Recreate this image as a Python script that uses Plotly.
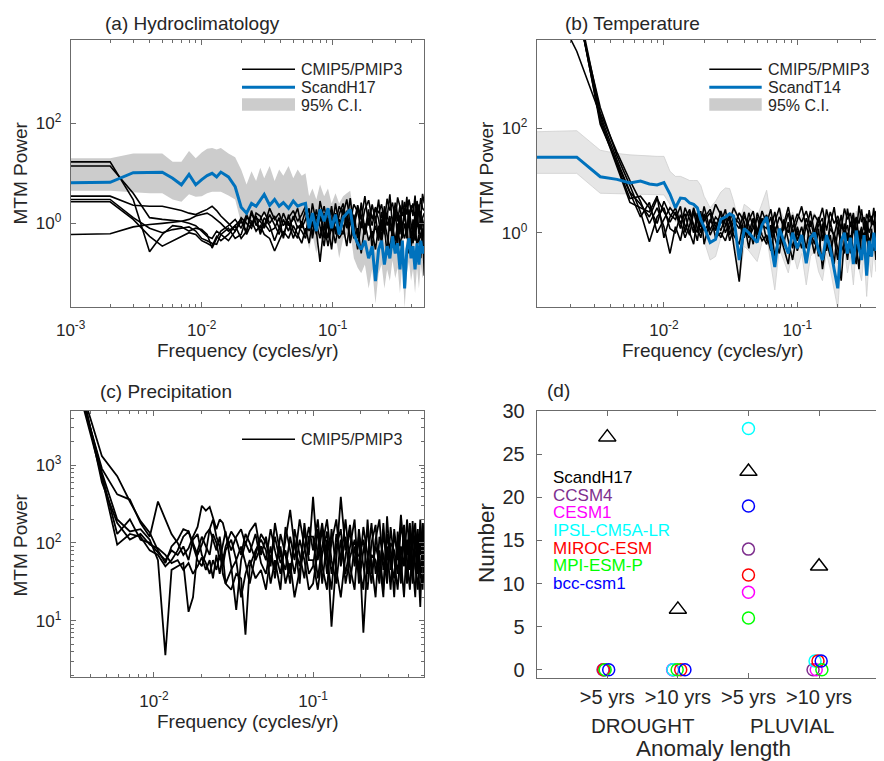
import plotly.graph_objects as go

FONT = "Liberation Sans"
AX_COL = "#6b6b6b"
TXT = "#262626"
BLUE = "#0072BD"
# the page body keeps the browser's default 8 px margin, so the figure is drawn 8 px in
OFF = 8
W, H = 884 - OFF, 761 - OFF

# ---------------------------------------------------------------- panel (a)
freq_a = [0.001, 0.002, 0.003, 0.004, 0.005, 0.006, 0.007, 0.008, 0.009, 0.010,
          0.011, 0.012, 0.013, 0.014, 0.016, 0.018, 0.020, 0.022, 0.024, 0.026,
          0.028, 0.030, 0.033, 0.036, 0.039, 0.042, 0.046, 0.050, 0.054, 0.058,
          0.062, 0.066, 0.070, 0.075, 0.080, 0.086, 0.092, 0.098, 0.105, 0.112,
          0.120, 0.128, 0.136, 0.145, 0.155, 0.165, 0.176, 0.188, 0.200, 0.212,
          0.224, 0.236, 0.248, 0.260, 0.273, 0.286, 0.300, 0.313, 0.326, 0.340,
          0.354, 0.368, 0.382, 0.396, 0.410, 0.425, 0.440, 0.455, 0.470, 0.485, 0.500]

scandH17_a = [6.5, 6.6, 10.3, 10.6, 10.5, 8.0, 5.9, 9.5, 5.9, 7.5,
              9.0, 10.0, 8.5, 10.6, 8.5, 5.4, 2.1, 1.6, 2.5, 2.2,
              3.0, 3.8, 2.3, 3.0, 2.2, 2.6, 2.0, 2.8, 2.2, 2.4,
              2.5, 0.8, 1.6, 0.7, 1.9, 1.1, 2.0, 0.8, 1.5, 0.6,
              1.3, 1.6, 1.9, 0.6, 0.4, 0.3, 0.45, 0.2, 0.35, 0.07,
              0.3, 0.45, 0.15, 0.35, 0.2, 0.55, 0.25, 0.4, 0.12, 0.45,
              0.05, 0.3, 0.5, 0.2, 0.35, 0.12, 0.4, 0.15, 0.45, 0.25, 0.35]

ci_hi_a = [20, 20, 25, 25, 25, 17, 17, 28, 20, 26,
           31, 32, 30, 32, 25, 21, 12, 6, 11, 7,
           13, 8, 14, 7, 12, 9, 14, 8, 12, 9,
           10, 3.5, 5, 3, 6, 3.5, 5, 2.5, 4, 2.5,
           3.5, 4, 4.5, 1.5, 1.0, 0.8, 1.1, 0.5, 0.9, 0.25,
           0.8, 1.1, 0.4, 0.9, 0.5, 1.3, 0.6, 1.0, 0.3, 1.1,
           0.15, 0.8, 1.2, 0.5, 0.9, 0.3, 1.0, 0.4, 1.1, 0.6, 0.9]

ci_lo_a = [4.5, 4.5, 4.2, 4.0, 4.0, 3.0, 2.7, 3.8, 3.4, 3.5,
           4.0, 4.3, 4.3, 4.3, 3.6, 3.0, 1.0, 0.8, 1.0, 0.9,
           1.3, 1.5, 1.0, 1.3, 1.0, 1.1, 0.9, 1.2, 1.0, 1.0,
           1.0, 0.3, 0.6, 0.25, 0.7, 0.4, 0.8, 0.3, 0.6, 0.2,
           0.5, 0.6, 0.7, 0.2, 0.13, 0.1, 0.15, 0.05, 0.12, 0.025,
           0.1, 0.15, 0.05, 0.12, 0.07, 0.18, 0.08, 0.13, 0.04, 0.15,
           0.02, 0.1, 0.17, 0.07, 0.12, 0.04, 0.13, 0.05, 0.15, 0.08, 0.12]

cmip_a1 = [17, 17, 3.0, 0.27, 0.6, 0.9, 0.85, 0.7, 0.8, 0.75,
           0.6, 0.32, 0.5, 0.7, 0.9, 1.2, 0.8, 1.5, 0.9, 1.3,
           1.1, 0.8, 1.5, 0.9, 0.6, 1.2, 0.7, 1.4, 0.8, 1.0,
           1.8, 0.7, 2.5, 1.0, 0.5, 1.6, 0.8, 2.2, 0.6, 1.5,
           2.5, 1.0, 3.2, 0.8, 2.0, 1.2, 3.5, 0.9, 2.4, 1.1,
           3.0, 0.7, 2.2, 1.3, 3.8, 0.9, 2.6, 1.5, 0.6, 2.9,
           1.2, 3.4, 0.8, 2.3, 1.4, 3.6, 0.9, 2.0, 1.3, 3.9, 2.5]
cmip_a2 = [14, 14, 4.0, 1.3, 1.2, 1.15, 1.1, 1.0, 0.9, 0.7,
           0.55, 0.5, 0.7, 0.6, 0.45, 0.7, 1.1, 0.7, 1.6, 1.0,
           0.7, 1.3, 0.9, 0.45, 0.8, 0.6, 1.1, 0.5, 0.9, 0.7,
           0.5, 1.2, 0.6, 1.9, 0.9, 0.35, 1.3, 0.7, 2.5, 0.9,
           0.6, 1.8, 0.4, 1.5, 0.5, 2.6, 0.7, 1.9, 0.3, 1.4,
           0.5, 1.7, 0.8, 0.25, 1.3, 0.6, 2.0, 0.4, 1.5, 0.7,
           2.1, 0.5, 1.6, 0.3, 1.2, 0.8, 2.2, 0.6, 1.7, 0.4, 1.0]
cmip_a3 = [3.5, 3.5, 2.3, 2.2, 2.2, 2.0, 1.8, 1.6, 1.5, 1.7,
           1.9, 2.2, 1.8, 1.4, 1.0, 0.7, 1.3, 1.0, 0.8, 1.6,
           1.4, 0.9, 2.0, 1.2, 1.6, 0.9, 1.3, 1.8, 1.1, 1.5,
           2.2, 1.0, 1.5, 0.6, 2.8, 1.2, 0.5, 1.8, 1.0, 2.2,
           1.5, 3.0, 1.1, 2.4, 1.7, 0.8, 1.9, 2.9, 1.2, 2.1,
           1.6, 2.4, 1.0, 3.1, 1.8, 2.6, 1.1, 3.3, 2.0, 1.4,
           2.7, 1.5, 3.0, 1.8, 2.5, 1.2, 2.8, 1.6, 3.2, 2.0, 1.8]
cmip_a4 = [3.0, 3.0, 1.3, 0.8, 0.65, 0.75, 0.8, 0.85, 0.7, 0.5,
           0.45, 0.4, 0.38, 0.6, 0.8, 0.5, 0.6, 1.3, 1.1, 0.7,
           0.9, 0.6, 0.5, 0.28, 0.45, 0.7, 0.5, 0.9, 0.6, 0.4,
           0.8, 0.4, 1.1, 0.7, 0.17, 1.0, 0.35, 0.9, 0.4, 1.2,
           0.9, 0.35, 1.2, 0.5, 0.8, 0.25, 1.0, 0.45, 0.7, 0.3,
           0.9, 0.4, 1.1, 0.6, 0.3, 0.8, 0.45, 1.0, 0.35, 0.7,
           0.5, 0.9, 0.25, 0.7, 0.4, 1.0, 0.35, 0.6, 0.2, 0.8, 0.09]
cmip_a5 = [2.7, 2.7, 1.2, 0.55, 0.35, 0.45, 0.55, 0.65, 0.6, 0.45,
           0.4, 0.35, 0.55, 0.45, 0.6, 0.9, 0.5, 0.7, 1.8, 0.9,
           1.2, 1.7, 1.0, 1.4, 0.8, 1.6, 0.9, 1.2, 2.0, 0.8,
           1.2, 2.0, 0.5, 1.4, 1.1, 2.2, 0.9, 0.3, 1.6, 0.7,
           2.0, 0.8, 1.6, 1.0, 2.3, 1.3, 0.6, 1.7, 0.9, 2.0,
           1.2, 0.5, 1.8, 0.9, 1.4, 0.45, 1.7, 1.1, 2.3, 0.8,
           1.5, 0.7, 1.9, 1.0, 0.55, 1.6, 1.1, 2.4, 0.75, 1.3, 1.6]
cmip_a6 = [0.6, 0.62, 0.85, 0.95, 1.0, 1.05, 1.1, 1.2, 1.4, 1.5,
           1.6, 1.4, 1.2, 1.0, 0.7, 0.9, 1.2, 0.6, 1.0, 1.4,
           0.6, 1.0, 0.7, 0.8, 1.3, 0.5, 1.5, 0.7, 0.5, 1.1,
           0.6, 1.5, 0.9, 0.7, 1.7, 0.5, 2.0, 1.2, 0.8, 0.5,
           0.7, 1.2, 0.45, 0.9, 0.3, 1.1, 0.6, 1.3, 0.5, 0.9,
           0.45, 1.2, 0.6, 1.6, 0.7, 1.0, 0.3, 0.8, 1.2, 0.5,
           1.0, 0.6, 1.4, 0.5, 0.9, 0.45, 1.1, 0.7, 0.5, 1.2, 0.8]

# ---------------------------------------------------------------- panel (b)
freq_b = [0.00111, 0.00222, 0.00333, 0.00444, 0.00556, 0.00667, 0.00778, 0.00889, 0.0100, 0.0111,
          0.0122, 0.0133, 0.0144, 0.0156, 0.0167, 0.0178, 0.0189, 0.0200, 0.0222, 0.0244,
          0.0267, 0.0289, 0.0311, 0.0333, 0.0367, 0.0400, 0.0433, 0.0467, 0.0500, 0.0544,
          0.0589, 0.0633, 0.0678, 0.0733, 0.0789, 0.0856, 0.0922, 0.1000, 0.1078, 0.1167,
          0.1256, 0.1344, 0.1444, 0.1544, 0.1656, 0.1767, 0.1889, 0.2011, 0.2133, 0.2256,
          0.2378, 0.2500, 0.2633, 0.2767, 0.2900, 0.3033, 0.3167, 0.3311, 0.3456, 0.3600,
          0.3744, 0.3889, 0.4033, 0.4178, 0.4322, 0.4467, 0.4611, 0.4756, 0.4900, 0.5000]

scandT14_b = [28, 28, 11.8, 10.5, 9.0, 9.8, 8.6, 8.2, 9.1, 5.5,
              3.0, 4.6, 4.5, 3.7, 3.5, 3.0, 1.75, 1.3, 0.65, 0.75,
              1.8, 2.0, 2.3, 2.1, 0.3, 1.2, 1.0, 0.8, 0.65, 1.4,
              2.0, 0.6, 0.22, 1.2, 0.7, 0.4, 1.0, 0.5, 0.9, 0.26,
              0.8, 1.0, 0.45, 0.3, 0.9, 0.5, 0.2, 0.086, 0.7, 1.0,
              0.4, 0.8, 0.25, 1.1, 0.5, 0.3, 0.9, 0.15, 0.7, 0.35,
              1.0, 0.45, 0.8, 0.2, 0.6, 0.9, 0.4, 0.7, 0.3, 0.6]

ci_hi_b = [86, 90, 38, 33, 31, 30, 29, 29, 29, 15,
           12, 12, 11, 10, 10, 10, 8, 5, 3.0, 4.0,
           6.0, 7.2, 7.0, 4.0, 1.5, 3.5, 3.0, 2.5, 2.0, 3.5,
           6.5, 2.0, 0.7, 3.0, 2.0, 1.2, 2.5, 1.4, 2.2, 0.8,
           2.0, 2.4, 1.2, 0.8, 2.2, 1.3, 0.6, 0.25, 1.7, 2.4,
           1.1, 2.0, 0.7, 2.6, 1.3, 0.8, 2.2, 0.45, 1.8, 0.9,
           2.4, 1.2, 2.0, 0.6, 1.5, 2.2, 1.1, 1.8, 0.8, 1.5]
ci_lo_b = [13.7, 13.7, 5.7, 5.6, 5.5, 5.5, 5.4, 5.3, 5.3, 3.5,
           1.6, 2.3, 2.4, 2.2, 2.0, 1.8, 1.0, 0.7, 0.3, 0.35,
           0.8, 1.0, 1.2, 1.0, 0.12, 0.55, 0.45, 0.35, 0.28, 0.65,
           0.9, 0.25, 0.08, 0.5, 0.3, 0.17, 0.45, 0.2, 0.4, 0.1,
           0.35, 0.45, 0.18, 0.12, 0.4, 0.2, 0.08, 0.035, 0.3, 0.45,
           0.17, 0.35, 0.1, 0.5, 0.2, 0.12, 0.4, 0.06, 0.3, 0.14,
           0.45, 0.18, 0.35, 0.08, 0.25, 0.4, 0.16, 0.3, 0.12, 0.25]

cmip_b1 = [1e5, 3000, 180, 25, 6, 3.5, 2.0, 4.5, 2.5, 1.6,
           2.5, 1.2, 3.0, 1.8, 1.0, 2.4, 1.5, 3.2, 1.1, 2.0,
           1.5, 2.8, 0.9, 1.7, 1.2, 2.5, 1.0, 1.9, 0.7, 1.6,
           2.2, 0.8, 1.6, 3.0, 1.1, 2.4, 0.9, 1.8, 3.2, 1.2,
           2.6, 1.0, 2.0, 0.7, 2.8, 1.4, 3.1, 1.0, 2.2, 0.8,
           2.9, 1.3, 2.4, 0.9, 3.3, 1.6, 2.0, 0.8, 2.7, 1.4,
           3.0, 1.1, 2.3, 1.5, 3.2, 0.9, 2.5, 1.7, 2.8, 1.5]
cmip_b2 = [3e5, 2e4, 250, 30, 8, 2.5, 0.67, 2.0, 3.0, 1.2,
           1.0, 2.2, 1.4, 0.9, 2.6, 1.2, 0.8, 1.9, 2.8, 1.3,
           0.8, 1.3, 2.2, 0.6, 0.115, 1.4, 0.8, 1.2, 2.0, 0.9,
           0.6, 1.4, 0.35, 1.0, 0.5, 0.25, 1.2, 0.45, 0.8, 0.3,
           0.9, 0.4, 1.2, 0.2, 0.7, 0.35, 1.0, 0.5, 0.12, 0.8,
           0.3, 0.9, 0.5, 0.25, 1.1, 0.4, 0.7, 0.2, 0.8, 0.35,
           0.9, 0.3, 0.6, 0.15, 0.8, 0.4, 0.25, 0.7, 0.05, 0.5]
cmip_b3 = [3e5, 2.5e4, 160, 20, 4.5, 5.0, 3.0, 1.5, 4.0, 2.2,
           1.8, 3.2, 1.0, 2.5, 1.3, 0.7, 2.0, 1.1, 1.6, 3.5,
           2.2, 1.0, 1.6, 3.0, 1.8, 0.9, 2.4, 1.3, 1.0, 2.6,
           1.5, 2.8, 1.0, 2.0, 1.4, 3.1, 1.2, 2.3, 1.6, 2.6,
           1.3, 2.2, 1.6, 3.0, 1.1, 2.5, 1.5, 2.1, 1.2, 2.9,
           1.8, 2.4, 1.2, 2.0, 1.5, 2.8, 1.1, 2.3, 1.6, 2.1,
           1.4, 2.6, 1.8, 2.2, 1.3, 2.9, 1.7, 2.0, 1.5, 2.4]
cmip_b4 = [4e5, 3e4, 120, 22, 5.5, 2.0, 3.8, 1.0, 1.8, 3.0,
           2.2, 1.6, 0.8, 1.4, 3.0, 1.8, 1.0, 2.3, 0.9, 1.6,
           1.1, 2.0, 0.7, 1.2, 2.4, 1.6, 0.5, 1.8, 1.2, 0.7,
           0.9, 0.45, 1.3, 0.6, 1.8, 0.7, 0.3, 1.1, 0.5, 1.4,
           0.6, 1.1, 0.35, 1.5, 0.5, 0.9, 0.25, 1.2, 0.6, 0.4,
           1.0, 0.4, 1.3, 0.6, 0.2, 1.1, 0.5, 0.9, 0.35, 1.2,
           0.45, 1.0, 0.3, 1.2, 0.6, 0.2, 0.9, 0.4, 1.1, 0.7]
cmip_b5 = [5e5, 3e4, 200, 35, 10, 4.0, 1.5, 3.0, 1.3, 0.4,
           1.3, 0.7, 1.9, 2.8, 1.4, 1.0, 2.6, 0.6, 1.8, 1.1,
           2.6, 1.4, 1.9, 0.9, 0.6, 2.1, 1.4, 0.6, 2.4, 1.4,
           1.2, 2.0, 0.8, 0.4, 1.5, 1.0, 2.2, 0.7, 1.3, 0.5,
           1.7, 0.8, 1.4, 1.9, 0.6, 1.2, 0.9, 1.8, 0.55, 1.5,
           0.7, 1.6, 1.0, 1.9, 0.8, 1.3, 0.45, 1.7, 1.0, 1.4,
           1.6, 0.7, 1.4, 0.9, 1.9, 1.1, 0.6, 1.5, 0.9, 1.3]
cmip_b6 = [4e5, 2.5e4, 140, 18, 3.8, 3.0, 2.5, 5.0, 0.8, 2.0,
           3.0, 1.5, 2.3, 1.0, 0.6, 2.1, 1.3, 1.7, 2.4, 0.8,
           1.0, 0.7, 1.3, 2.0, 1.5, 0.8, 1.7, 2.6, 0.9, 1.9,
           0.7, 1.1, 2.5, 0.9, 0.6, 1.6, 0.5, 1.3, 0.7, 1.9,
           1.0, 0.6, 1.8, 1.1, 0.45, 1.6, 0.8, 0.3, 1.4, 1.0,
           1.4, 0.6, 1.9, 1.0, 0.55, 1.2, 0.85, 1.5, 0.6, 1.0,
           0.8, 1.3, 0.5, 1.7, 1.0, 1.4, 0.7, 0.12, 1.2, 0.9]

# ---------------------------------------------------------------- panel (c)
freq_c = [0.00235, 0.00353, 0.00471, 0.00588, 0.00706, 0.00824, 0.00941, 0.0106, 0.0118, 0.0129,
          0.0141, 0.0153, 0.0165, 0.0176, 0.0188, 0.0200, 0.0212, 0.0224, 0.0235, 0.0247,
          0.0259, 0.0271, 0.0282, 0.0306, 0.0329, 0.0353, 0.0376, 0.0400, 0.0435, 0.0471,
          0.0506, 0.0541, 0.0576, 0.0624, 0.0671, 0.0718, 0.0765, 0.0824, 0.0882, 0.0941,
          0.1000, 0.1071, 0.1141, 0.1224, 0.1306, 0.1400, 0.1494, 0.1600, 0.1706, 0.1824,
          0.1941, 0.2071, 0.2200, 0.2329, 0.2471, 0.2612, 0.2765, 0.2918, 0.3071, 0.3235,
          0.3400, 0.3565, 0.3729, 0.3894, 0.4059, 0.4224, 0.4388, 0.4553, 0.4718, 0.4882, 0.5000]

cmip_c1 = [1.2e5, 9000, 1300, 720, 340, 190, 135, 80, 55, 90,
           110, 150, 140, 100, 70, 95, 130, 150, 110, 80,
           120, 60, 90, 140, 110, 70, 130, 100, 60, 90,
           60, 150, 80, 40, 110, 265, 90, 50, 140, 70,
           390, 60, 150, 40, 100, 200, 50, 120, 30, 90,
           40, 160, 70, 30, 110, 200, 45, 90, 25, 150,
           60, 230, 80, 35, 150, 60, 20, 130, 70, 180, 110]
cmip_c2 = [1.0e5, 7000, 900, 420, 360, 180, 120, 340, 200, 130,
           100, 70, 85, 120, 160, 300, 260, 290, 210, 150,
           200, 180, 130, 80, 120, 150, 95, 140, 180, 70,
           120, 50, 180, 70, 45, 120, 60, 200, 90, 40,
           50, 150, 30, 110, 8.4, 70, 390, 80, 170, 50,
           120, 7, 60, 180, 40, 80, 25, 130, 60, 35,
           100, 40, 170, 60, 25, 110, 180, 40, 200, 50, 60]
cmip_c3 = [1.1e5, 8000, 800, 200, 140, 150, 110, 60, 3.6, 45,
           50, 55, 13, 20, 80, 120, 90, 70, 130, 100,
           60, 100, 140, 50, 13.8, 60, 100, 75, 130, 55,
           40, 90, 35, 130, 70, 30, 150, 70, 35, 120,
           120, 35, 90, 200, 60, 30, 110, 40, 90, 200,
           30, 80, 140, 50, 20, 120, 70, 30, 160, 60,
           25, 90, 50, 200, 70, 30, 90, 150, 35, 100, 180]
cmip_c4 = [0.9e5, 6500, 700, 95, 130, 120, 80, 70, 50, 60,
           80, 120, 140, 90, 60, 50, 75, 150, 200, 120,
           90, 40, 30, 25, 40, 35, 6.6, 50, 80, 110,
           80, 30, 60, 25, 160, 80, 40, 110, 60, 25,
           30, 80, 180, 60, 25, 130, 60, 200, 50, 25,
           150, 50, 25, 100, 170, 35, 130, 60, 90, 20,
           140, 60, 20, 110, 45, 190, 50, 25, 120, 60, 30]
cmip_c5 = [1.3e5, 9500, 600, 180, 110, 130, 95, 85, 70, 55,
           60, 45, 55, 40, 50, 65, 45, 60, 35, 70,
           40, 70, 30, 45, 60, 20, 40, 60, 35, 45,
           25, 70, 45, 90, 30, 55, 20, 45, 80, 160,
           80, 200, 50, 25, 150, 45, 20, 70, 140, 60,
           70, 110, 40, 70, 60, 30, 180, 40, 100, 80,
           40, 160, 110, 30, 90, 50, 140, 70, 15, 140, 80]
cmip_c6 = [1.0e5, 7500, 750, 130, 200, 110, 100, 75, 60, 80,
           70, 90, 60, 110, 130, 70, 55, 40, 60, 45,
           70, 50, 80, 110, 60, 90, 55, 30, 70, 130,
           100, 60, 120, 55, 80, 40, 110, 30, 180, 60,
           60, 25, 70, 140, 40, 90, 150, 30, 65, 110,
           50, 25, 200, 40, 90, 60, 20, 220, 45, 120,
           80, 30, 140, 70, 180, 40, 70, 100, 50, 25, 140]

# ---------------------------------------------------------------- panel (d)
anomaly_cats = [">5 yrs", ">10 yrs", ">5 yrs", ">10 yrs"]
cat_pos = [1, 2, 3, 4]
scandH17_counts = [27, 7, 23, 12]
model_names = ["CCSM4", "CESM1", "IPSL-CM5A-LR", "MIROC-ESM", "MPI-ESM-P", "bcc-csm1"]
model_colors = ["#7E2F8E", "#FF00FF", "#00FFFF", "#FF0000", "#00FF00", "#0000FF"]
model_counts = [[0, 0, 14, 0],
                [0, 0, 9, 0],
                [0, 0, 28, 1],
                [0, 0, 11, 1],
                [0, 0, 6, 0],
                [0, 0, 19, 1]]
model_jitter = [[-0.06, -0.07, 0.0, -0.085],
                [-0.05, -0.075, 0.0, -0.04],
                [-0.04, -0.07, 0.0, -0.057],
                [-0.05, 0.04, 0.0, -0.015],
                [-0.03, -0.01, 0.0, 0.04],
                [0.02, 0.10, 0.0, 0.03]]


def check(name, xs, ys):
    if len(xs) != len(ys):
        raise ValueError(f"{name}: {len(xs)} x vs {len(ys)} y")


for nm, ys in [("a blue", scandH17_a), ("a hi", ci_hi_a), ("a lo", ci_lo_a),
               ("a1", cmip_a1), ("a2", cmip_a2), ("a3", cmip_a3),
               ("a4", cmip_a4), ("a5", cmip_a5), ("a6", cmip_a6)]:
    check(nm, freq_a, ys)
for nm, ys in [("b blue", scandT14_b), ("b hi", ci_hi_b), ("b lo", ci_lo_b),
               ("b1", cmip_b1), ("b2", cmip_b2), ("b3", cmip_b3),
               ("b4", cmip_b4), ("b5", cmip_b5), ("b6", cmip_b6)]:
    check(nm, freq_b, ys)
for nm, ys in [("c1", cmip_c1), ("c2", cmip_c2), ("c3", cmip_c3),
               ("c4", cmip_c4), ("c5", cmip_c5), ("c6", cmip_c6)]:
    check(nm, freq_c, ys)

fig = go.Figure()


def add_spectrum(xa, ya, freq, hi, lo, fill, edge, models, blue, kwidth):
    if hi is not None:
        fig.add_trace(go.Scatter(x=freq, y=hi, mode="lines", xaxis=xa, yaxis=ya,
                                 line=dict(width=0.8 if edge else 0, color=edge or fill),
                                 hoverinfo="skip"))
        fig.add_trace(go.Scatter(x=freq, y=lo, mode="lines", xaxis=xa, yaxis=ya,
                                 fill="tonexty", fillcolor=fill,
                                 line=dict(width=0.8 if edge else 0, color=edge or fill),
                                 hoverinfo="skip"))
    for m in models:
        fig.add_trace(go.Scatter(x=freq, y=m, mode="lines", xaxis=xa, yaxis=ya,
                                 line=dict(color="black", width=kwidth)))
    if blue is not None:
        fig.add_trace(go.Scatter(x=freq, y=blue, mode="lines", xaxis=xa, yaxis=ya,
                                 line=dict(color=BLUE, width=3)))


add_spectrum("x", "y", freq_a, ci_hi_a, ci_lo_a, "#cccccc", None,
             [cmip_a1, cmip_a2, cmip_a3, cmip_a4, cmip_a5, cmip_a6], scandH17_a, 1.6)
add_spectrum("x2", "y2", freq_b, ci_hi_b, ci_lo_b, "#e6e6e6", "#cfcfcf",
             [cmip_b1, cmip_b2, cmip_b3, cmip_b4, cmip_b5, cmip_b6], scandT14_b, 1.6)
add_spectrum("x3", "y3", freq_c, None, None, None, None,
             [cmip_c1, cmip_c2, cmip_c3, cmip_c4, cmip_c5, cmip_c6], None, 1.8)

# panel (d)
fig.add_trace(go.Scatter(x=cat_pos, y=scandH17_counts, mode="markers", xaxis="x4", yaxis="y4",
                         marker=dict(symbol="triangle-up-open", size=15, color="black",
                                     line=dict(width=1.5, color="black"))))
for counts, jit, col in zip(model_counts, model_jitter, model_colors):
    fig.add_trace(go.Scatter(x=[c + j for c, j in zip(cat_pos, jit)], y=counts, mode="markers",
                             xaxis="x4", yaxis="y4",
                             marker=dict(symbol="circle-open", size=12, color=col,
                                         line=dict(width=1.5, color=col))))


# layout helpers: positions given in screen pixels of the 884x761 page
def px(p):
    return (p - OFF) / W


def py(p):
    return 1 - (p - OFF) / H


dom_xl = [px(70.7), px(424.3)]
dom_xr = [px(536.7), 1.0]
dom_yt = [py(306.7), py(40)]
dom_yc = [py(677.3), py(410.7)]
dom_yd = [py(678.3), py(411.3)]

tickfont = dict(family=FONT, size=17, color=TXT)
minor_log = dict(ticks="inside", ticklen=3, tickcolor=AX_COL, dtick="D1", showgrid=False)


def log_axis(domain, rng, anchor, vals, texts, minor=True, mirror="ticks", standoff=8):
    d = dict(type="log", domain=domain, range=rng, anchor=anchor, automargin=False,
             tickmode="array", tickvals=vals, ticktext=texts,
             ticks="inside", ticklen=5, tickwidth=1, tickcolor=AX_COL,
             showline=True, linecolor=AX_COL, linewidth=1, mirror=mirror,
             showgrid=False, zeroline=False, tickfont=tickfont,
             ticklabelstandoff=standoff)
    if minor:
        d["minor"] = minor_log
    return d


def sup(n):
    return f"10<sup>{n}</sup>"


fig.update_layout(
    template="none",
    width=W, height=H, margin=dict(l=0, r=0, t=0, b=0, pad=0), autosize=False,
    paper_bgcolor="white", plot_bgcolor="white", showlegend=False,
    font=dict(family=FONT, color=TXT),
    xaxis=log_axis(dom_xl, [-3, -0.301], "y", [0.001, 0.01, 0.1], [sup(-3), sup(-2), sup(-1)]),
    yaxis=log_axis(dom_yt, [-1.667, 3.667], "x", [1, 100], [sup(0), sup(2)], minor=False,
                   standoff=5),
    xaxis2=log_axis(dom_xr, [-2.954, -0.35], "y2", [0.01, 0.1], [sup(-2), sup(-1)]),
    yaxis2=log_axis(dom_yt, [-1.418, 3.692], "x2", [1, 100], [sup(0), sup(2)], minor=False,
                    mirror=False, standoff=5),
    xaxis3=log_axis(dom_xl, [-2.523, -0.301], "y3", [0.01, 0.1], [sup(-2), sup(-1)]),
    yaxis3=log_axis(dom_yc, [0.273, 3.698], "x3", [10, 100, 1000], [sup(1), sup(2), sup(3)],
                    standoff=5),
    xaxis4=dict(domain=dom_xr, range=[0, 4.92], anchor="y4", automargin=False, tickmode="array",
                tickvals=cat_pos, ticktext=anomaly_cats, ticks="inside", ticklen=5,
                tickcolor=AX_COL, showline=True, linecolor=AX_COL, mirror="ticks",
                showgrid=False, zeroline=False, ticklabelstandoff=1,
                tickfont=dict(family=FONT, size=20, color=TXT)),
    yaxis4=dict(domain=dom_yd, range=[-1, 30], anchor="x4", automargin=False, tickmode="array",
                tickvals=[0, 5, 10, 15, 20, 25, 30], ticks="inside", ticklen=5,
                tickcolor=AX_COL, showline=True, linecolor=AX_COL, mirror=False,
                showgrid=False, zeroline=False, ticklabelstandoff=7,
                tickfont=dict(family=FONT, size=20, color=TXT)),
)

anns = []


def ann(text, x, y, size, color=TXT, xanchor="center", angle=0, xref="paper"):
    anns.append(dict(text=text, x=x, y=y, xref=xref, yref="paper", showarrow=False,
                     font=dict(family=FONT, size=size, color=color),
                     xanchor=xanchor, yanchor="middle", textangle=angle))


# titles
ann("(a) Hydroclimatology", px(103), py(24), 19, xanchor="left")
ann("(b) Temperature", px(563), py(24), 19, xanchor="left")
ann("(c) Precipitation", px(98), py(391.5), 19, xanchor="left")
ann("(d)", px(545), py(390.5), 19, xanchor="left")
# axis titles
ann("Frequency (cycles/yr)", px(248), py(350), 19)
ann("Frequency (cycles/yr)", px(713.3), py(350), 19)
ann("Frequency (cycles/yr)", px(248), py(721), 19)
ann("MTM Power", px(19.5), py(173), 19, angle=-90)
ann("MTM Power", px(486), py(173), 19, angle=-90)
ann("MTM Power", px(19.5), py(545), 19, angle=-90)
ann("Number", px(486), py(543), 22.5, angle=-90)
ann("DROUGHT", 1.5, py(725), 20.5, xref="x4")
ann("PLUVIAL", 3.62, py(725), 20.5, xref="x4")
ann("Anomaly length", px(713.3), py(748), 22.5)
# legends (a), (b), (c)
for lx in (px(299), px(765.5)):
    ann("CMIP5/PMIP3", lx, py(69.3), 16, xanchor="left")
    ann("95% C.I.", lx, py(105), 16, xanchor="left")
ann("ScandH17", px(299), py(87.3), 16, xanchor="left")
ann("ScandT14", px(765.5), py(87.3), 16, xanchor="left")
ann("CMIP5/PMIP3", px(299), py(439.3), 16, xanchor="left")
# legend (d)
leg_d_y = [477, 495, 512.7, 530.3, 548, 565.7, 583]
for name, col, yy in zip(["ScandH17"] + model_names, ["black"] + model_colors, leg_d_y):
    ann(name, px(551), py(yy), 17, color=col, xanchor="left")

shapes = []
for x0, x1 in ((px(242), px(295)), (px(709.3), px(761.7))):
    shapes.append(dict(type="line", xref="paper", yref="paper", x0=x0, x1=x1,
                       y0=py(69.3), y1=py(69.3), line=dict(color="black", width=1.5)))
    shapes.append(dict(type="line", xref="paper", yref="paper", x0=x0, x1=x1,
                       y0=py(87.3), y1=py(87.3), line=dict(color=BLUE, width=3)))
    shapes.append(dict(type="rect", xref="paper", yref="paper", x0=x0, x1=x1,
                       y0=py(110.7), y1=py(98.3), fillcolor="#cccccc", line=dict(width=0)))
shapes.append(dict(type="line", xref="paper", yref="paper", x0=px(242), x1=px(295),
                   y0=py(439.3), y1=py(439.3), line=dict(color="black", width=1.5)))

fig.update_layout(annotations=anns, shapes=shapes)
fig.write_html("out.html")
